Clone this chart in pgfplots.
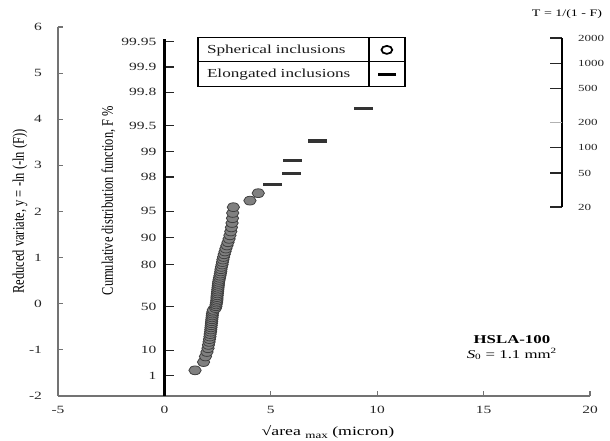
\documentclass[border=0pt]{standalone}
\usepackage{fontspec}
\setmainfont{Liberation Serif}[FakeStretch=1.4]
\newfontfamily\rotfont{Liberation Serif}
\usepackage{pgfplots}
\usepackage{pgfplotstable}
\pgfplotsset{compat=1.18}

% x = sqrt(area_max) in micron, y = reduced variate -ln(-ln(F))
\pgfplotstableread{
x y
1.44 -1.44314
1.84 -1.26439
1.93 -1.14279
2.00 -1.04659
2.05 -0.96495
2.07 -0.89295
2.10 -0.82776
2.12 -0.76763
2.14 -0.71142
2.15 -0.65831
2.17 -0.60771
2.18 -0.55917
2.19 -0.51233
2.20 -0.46692
2.21 -0.42270
2.22 -0.37949
2.23 -0.33710
2.24 -0.29545
2.25 -0.25438
2.26 -0.21380
2.28 -0.17360
2.30 -0.13371
2.40 -0.09405
2.42 -0.05454
2.43 -0.01512
2.45 0.02428
2.46 0.06372
2.47 0.10325
2.47 0.14294
2.48 0.18283
2.49 0.22299
2.50 0.26348
2.51 0.30435
2.52 0.34567
2.53 0.38749
2.54 0.42988
2.55 0.47290
2.57 0.51664
2.59 0.56116
2.61 0.60655
2.63 0.65290
2.65 0.70030
2.66 0.74886
2.68 0.79870
2.71 0.84994
2.73 0.90273
2.75 0.95723
2.78 1.01362
2.81 1.07212
2.85 1.13295
2.89 1.19641
2.94 1.26281
2.99 1.33252
3.04 1.40601
3.08 1.48382
3.12 1.56661
3.15 1.65520
3.18 1.75065
3.20 1.85427
3.21 1.96783
3.24 2.09370
4.02 2.23520
4.41 2.39722
}\spherical

\pgfplotstableread{
x y
5.09 2.58731
5.96 2.81809
6.01 3.11333
7.20 3.52626
9.35 4.22684
}\elongated

\begin{document}
\begin{tikzpicture}
\useasboundingbox (-43.5pt,-33.75pt) rectangle (414pt,297pt);

% main axis: reduced variate vs sqrt(area)
\begin{axis}[
  at={(0pt,0pt)}, anchor=south west,
  scale only axis, width=399pt, height=276.75pt,
  xmin=-5, xmax=20, ymin=-2, ymax=6,
  axis lines=left,
  axis line style={-, draw=black!55, line width=1.1pt},
  xtick={-5,0,5,10,15,20}, xticklabels={-5,0,5,10,15,20},
  ytick={-2,-1,0,1,2,3,4,5,6}, yticklabels={-2,-1,0,1,2,3,4,5,6},
  tick align=inside, major tick length=3.5pt,
  tick style={black!55, line width=0.8pt},
  tick label style={font=\fontsize{8.3}{10}\selectfont, text=black!85},
  yticklabel style={xshift=-8.5pt},
  xticklabel style={yshift=-4pt},
  clip=false,
  legend plot pos=right, legend cell align=left,
  legend style={at={(axis cs:1.579,5.770)}, anchor=north west,
    draw=none, fill=none, inner sep=0pt, outer sep=0pt,
    row sep=0pt, column sep=6.4pt,
    nodes={font=\fontsize{9.2}{11}\selectfont, text=black!90,
      text width=114.75pt, align=left,
      inner xsep=6.75pt, inner ysep=0pt, minimum height=18.4pt}},
]
\addplot[forget plot, only marks, mark=*, mark size=3.3pt,
  mark options={fill=black!50, draw=black!75, line width=0.6pt, xscale=1.4}]
  table {\spherical};
\addplot[forget plot, only marks, mark=-, mark size=7pt,
  mark options={draw=black!80, line width=2.4pt}]
  table {\elongated};

\addlegendimage{only marks, mark=o, mark size=3pt,
  mark options={draw=black, line width=1.3pt, xscale=1.35}}
\addlegendentry{Spherical inclusions}
\addlegendimage{only marks, mark=-, mark size=7pt,
  mark options={draw=black, line width=2.6pt}}
\addlegendentry{Elongated inclusions}

% legend frame
\draw[black, line width=0.9pt] (axis cs:1.579,5.770) rectangle (axis cs:11.306,4.707);
\draw[black, line width=0.9pt] (axis cs:1.579,5.249) -- (axis cs:11.306,5.249);
\draw[black, line width=0.9pt] (axis cs:9.615,5.770) -- (axis cs:9.615,4.707);

\node[font=\bfseries\fontsize{9}{11}\selectfont] at (axis cs:16.33,-0.781) {HSLA-100};
\node[font=\fontsize{9}{11}\selectfont] at (axis cs:16.33,-1.085)
  {\textit{S}\textsubscript{0} = 1.1 mm\textsuperscript{2}};

\node[font=\rotfont\fontsize{9.4}{11}\selectfont, rotate=90, yscale=1.3]
  at (axis cs:-6.786,2) {Reduced variate, y = -ln (-ln (F))};
\node[font=\rotfont\fontsize{9.3}{11}\selectfont, rotate=90, yscale=1.3]
  at (axis cs:-2.627,2.234) {Cumulative distribution function, F \%};
\node[font=\fontsize{9.5}{11}\selectfont] at (axis cs:7.69,-2.777)
  {√area \raisebox{-0.5ex}{\fontsize{7}{8}\selectfont max} (micron)};
\node[font=\fontsize{7.5}{9}\selectfont] at (axis cs:18.92,6.269) {T = 1/(1 - F)};
\end{axis}

% cumulative distribution scale F % on x = 0
\begin{axis}[
  at={(79.8pt,0pt)}, anchor=south west,
  scale only axis, width=1pt, height=267.75pt,
  xmin=0, xmax=1, ymin=-2.082, ymax=7.672,
  axis x line=none, axis y line=left,
  axis line style={-, black, line width=1.8pt},
  ytick={-1.5272,-0.8340,0.3665,1.4999,2.2504,2.9702,3.9019,4.6001,5.2958,6.2136,6.9073,7.6006},
  yticklabels={1,10,50,80,90,95,98,99,99.5,99.8,99.9,99.95},
  tick align=inside, major tick length=7.5pt,
  tick style={black!85, line width=0.8pt},
  yticklabel style={font=\fontsize{8.3}{10}\selectfont, text=black!85, xshift=-2.5pt},
]
\end{axis}

% return period scale T
\begin{axis}[
  at={(378pt,141.75pt)}, anchor=south east,
  scale only axis, width=1pt, height=126.75pt,
  xmin=0, xmax=1, ymin=2.9702, ymax=7.6006,
  axis x line=none, axis y line=right,
  axis line style={-, black, line width=1.4pt},
  ytick={2.9702,3.9019,4.6001,6.2136,6.9073,7.6006},
  yticklabels={20,50,100,500,1000,2000},
  extra y ticks={5.2958}, extra y tick labels={200},
  extra y tick style={major tick style={draw=black!30}},
  tick align=inside, major tick length=9pt,
  tick style={black!85, line width=0.8pt},
  yticklabel style={font=\fontsize{7}{9}\selectfont, text=black!85, xshift=8.5pt},
]
\end{axis}
\end{tikzpicture}
\end{document}
